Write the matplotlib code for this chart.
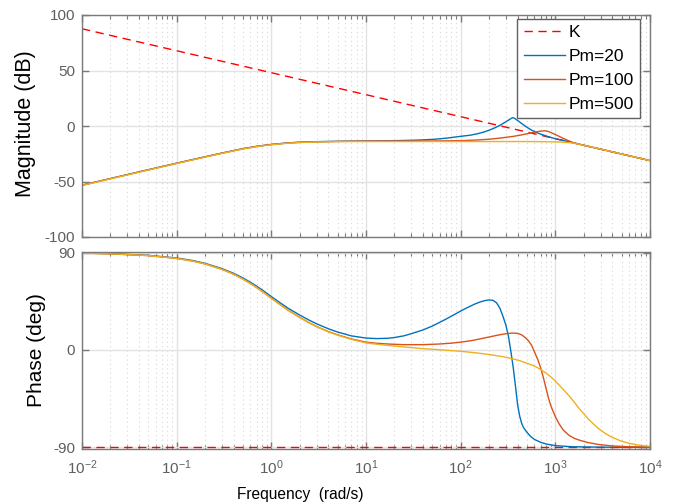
import numpy as np
import matplotlib
matplotlib.use("Agg")
import matplotlib.pyplot as plt
from matplotlib.ticker import LogLocator, NullFormatter, FixedLocator

plt.rcParams['font.family'] = ['Liberation Sans', 'DejaVu Sans']
plt.rcParams['mathtext.fontset'] = 'custom'
plt.rcParams['mathtext.rm'] = 'Liberation Sans'
plt.rcParams['mathtext.it'] = 'Liberation Sans:italic'
plt.rcParams['mathtext.bf'] = 'Liberation Sans:bold'

# ---------------- data ----------------
series_labels = ['K', 'Pm=20', 'Pm=100', 'Pm=500']

w_K = [0.01, 1e4]
mag_K = [87.6, -31.2]
ph_K = [-90.0, -90.0]

# magnitude (dB)
w_pm20_mag = [0.01, 0.02, 0.05, 0.1, 0.2, 0.3, 0.5, 0.7, 1, 1.5, 2, 3, 5, 10, 20, 30, 40,
              52, 70, 100, 126, 150, 175, 200, 230, 260, 290, 320, 340, 354, 370, 390,
              420, 460, 494, 560, 655, 800, 1000, 1300, 1540, 2000, 3000, 5000, 1e4]
mag_pm20 = [-53.3, -47.3, -39.4, -33.5, -27.7, -24.4, -20.4, -18.3, -16.6, -15.2, -14.6,
            -14.1, -13.8, -13.5, -13.2, -12.9, -12.5, -12.0, -11.0, -9.3, -8.3, -7.0, -5.5,
            -3.8, -1.6, 0.6, 3.0, 5.3, 6.7, 7.5, 7.0, 5.6, 3.6, 1.1, -0.8, -3.7, -6.4, -9.0,
            -11.5, -13.6, -15.1, -17.4, -20.8, -25.2, -31.2]

w_pm100_mag = [0.01, 0.02, 0.05, 0.1, 0.2, 0.3, 0.5, 0.7, 1, 1.5, 2, 3, 5, 10, 50, 100,
               150, 200, 260, 356, 424, 500, 600, 689, 775, 850, 920, 1025, 1200, 1540,
               2000, 3000, 5000, 1e4]
mag_pm100 = [-53.4, -47.4, -39.5, -33.6, -27.8, -24.5, -20.5, -18.4, -16.7, -15.3, -14.7,
             -14.2, -13.9, -13.6, -13.5, -13.2, -12.6, -11.9, -10.9, -9.4, -8.3, -7.0, -5.6,
             -4.7, -4.3, -5.0, -6.3, -8.1, -11.0, -15.0, -17.4, -20.8, -25.2, -31.2]

w_pm500_mag = [0.01, 0.02, 0.05, 0.1, 0.2, 0.3, 0.5, 0.7, 1, 1.5, 2, 3, 5, 10, 50, 200,
               500, 700, 1000, 1200, 1540, 2000, 3000, 5000, 1e4]
mag_pm500 = [-53.6, -47.6, -39.7, -33.8, -28.0, -24.7, -20.7, -18.6, -16.9, -15.5, -14.9,
             -14.4, -14.1, -14.0, -14.0, -14.0, -14.0, -14.1, -14.3, -14.6, -15.3, -17.4,
             -20.8, -25.2, -31.2]

# phase (deg)
w_pm20_ph = [0.01, 0.02, 0.05, 0.1, 0.15, 0.2, 0.3, 0.4, 0.5, 0.6, 0.7, 0.8, 1, 1.2, 1.5,
             2, 2.5, 3, 4, 5, 7, 10, 13, 17, 20, 25, 30, 40, 50, 60, 70, 85, 100, 120, 140,
             160, 180, 200, 220, 240, 260, 280, 300, 320, 340, 360, 380, 400, 420, 440,
             460, 500, 550, 600, 700, 810, 1000, 1500, 3000, 1e4]
ph_pm20 = [89.5, 89.0, 87.4, 85.0, 82.5, 80.0, 75.2, 70.8, 66.6, 62.6, 58.9, 55.5, 49.3,
           44.4, 38.6, 32.2, 27.6, 24.2, 19.6, 16.6, 13.0, 11.0, 10.5, 10.8, 11.5, 13.0,
           15.0, 18.5, 22.0, 25.5, 28.5, 32.5, 36.0, 39.5, 42.3, 44.3, 45.6, 46.2, 45.8,
           43.5, 38.4, 31.0, 23.0, 12.5, -2.0, -17.0, -34.0, -51.0, -61.0, -67.5, -71.5,
           -76.0, -80.0, -82.6, -85.3, -87.0, -88.4, -89.4, -89.8, -90.0]

w_pm100_ph = [0.01, 0.02, 0.05, 0.1, 0.15, 0.2, 0.3, 0.4, 0.5, 0.6, 0.7, 0.8, 1, 1.2, 1.5,
              2, 2.5, 3, 4, 5, 7, 10, 13, 17, 25, 40, 60, 80, 100, 130, 160, 200, 250, 300,
              350, 400, 440, 480, 520, 560, 600, 650, 700, 750, 800, 850, 900, 1000, 1100,
              1213, 1400, 1600, 1820, 2200, 2800, 4000, 6000, 1e4]
ph_pm100 = [89.4, 88.8, 87.2, 84.6, 82.0, 79.5, 74.5, 70.0, 65.6, 61.5, 57.7, 54.2, 47.8,
            42.8, 36.8, 30.0, 25.2, 21.7, 17.0, 14.0, 10.2, 7.2, 6.2, 5.5, 4.9, 4.9, 5.5,
            6.3, 7.2, 8.6, 10.2, 12.0, 13.8, 15.0, 15.6, 15.3, 14.0, 11.5, 8.5, 4.5, -1.5,
            -8.5, -16.5, -26.0, -36.0, -45.0, -52.0, -61.6, -68.5, -74.0, -79.0, -81.8,
            -83.5, -85.5, -87.2, -88.7, -89.4, -89.8]

w_pm500_ph = [0.01, 0.02, 0.05, 0.1, 0.15, 0.2, 0.3, 0.4, 0.5, 0.6, 0.7, 0.8, 1, 1.2, 1.5,
              2, 2.5, 3, 4, 5, 7, 10, 13, 17, 25, 40, 60, 100, 150, 200, 270, 350, 430,
              500, 600, 700, 800, 900, 1000, 1200, 1400, 1600, 1800, 2000, 2230, 2500,
              2800, 3350, 4000, 5000, 6150, 8000, 1e4]
ph_pm500 = [89.4, 88.8, 87.2, 84.6, 82.0, 79.5, 74.5, 70.0, 65.6, 61.5, 57.7, 54.2, 47.8,
            42.8, 36.8, 30.0, 25.2, 21.6, 16.8, 13.7, 9.8, 6.5, 5.3, 4.2, 2.8, 1.2, 0.2,
            -1.2, -2.8, -4.2, -6.0, -8.0, -10.2, -12.2, -14.8, -18.0, -21.5, -25.0, -28.8,
            -36.0, -42.5, -48.7, -54.5, -59.0, -63.8, -68.0, -72.0, -77.0, -80.8, -84.3,
            -86.5, -88.2, -89.0]

mag_ticks = [-100, -50, 0, 50, 100]
ph_ticks = [-90, 0, 90]
x_decades = [1e-2, 1e-1, 1e0, 1e1, 1e2, 1e3, 1e4]

# ---------------- styling ----------------
c_K = '#FF0000'
c_20 = '#0072BD'
c_100 = '#D95319'
c_500 = '#EDB120'
axis_col = '#7a7a7a'
label_col = '#5f5f5f'

W, H = 686, 504
fig = plt.figure(figsize=(W / 100, H / 100), dpi=100)

def box(l, t, r, b):
    return [l / W, 1 - b / H, (r - l) / W, (b - t) / H]

ax1 = fig.add_axes(box(82, 15, 650, 237))
ax2 = fig.add_axes(box(82, 252, 650, 449), sharex=ax1)

lw = 1.0
dash = (0, (6, 4))
ax1.plot(w_K, mag_K, color=c_K, lw=lw, linestyle=dash, label=series_labels[0])
ax1.plot(w_pm20_mag, mag_pm20, color=c_20, lw=lw, label=series_labels[1])
ax1.plot(w_pm100_mag, mag_pm100, color=c_100, lw=lw, label=series_labels[2])
ax1.plot(w_pm500_mag, mag_pm500, color=c_500, lw=lw, label=series_labels[3])

ax2.plot(w_K, ph_K, color=c_K, lw=lw, linestyle=dash)
ax2.plot(w_pm20_ph, ph_pm20, color=c_20, lw=lw)
ax2.plot(w_pm100_ph, ph_pm100, color=c_100, lw=lw)
ax2.plot(w_pm500_ph, ph_pm500, color=c_500, lw=lw)

for ax in (ax1, ax2):
    ax.set_xscale('log')
    ax.set_xlim(1e-2, 1e4)
    ax.xaxis.set_major_locator(FixedLocator(x_decades))
    ax.xaxis.set_minor_locator(LogLocator(base=10, subs=np.arange(2, 10), numticks=100))
    ax.xaxis.set_minor_formatter(NullFormatter())
    ax.grid(True, which='major', color='#e3e3e3', lw=1.0, ls='-')
    ax.grid(True, which='minor', axis='x', color='#d6d6d6', lw=0.8, ls=(0, (1, 3)))
    ax.set_axisbelow(True)
    for s in ax.spines.values():
        s.set_color(axis_col)
        s.set_linewidth(1.0)
    ax.tick_params(which='both', direction='in', top=True, right=True,
                   colors=axis_col, labelcolor=label_col, labelsize=11)
    ax.tick_params(which='major', length=5, width=1.0)
    ax.tick_params(which='minor', length=3, width=0.8)
    ax.tick_params(axis='y', pad=5)
    ax.tick_params(axis='x', pad=7)

ax1.set_ylim(-100, 100)
ax1.set_yticks(mag_ticks)
ax1.set_yticklabels([str(v) for v in mag_ticks])
ax1.tick_params(labelbottom=False)

ax2.set_ylim(-91.5, 90.5)
ax2.set_yticks(ph_ticks)
ax2.set_yticklabels([str(v) for v in ph_ticks])
ax2.set_xticklabels([r'$10^{%d}$' % int(round(np.log10(v))) for v in x_decades])

leg = ax1.legend(loc='upper right', bbox_to_anchor=(640 / W, 1 - 19 / H),
                 bbox_transform=fig.transFigure, fontsize=12.5, frameon=True,
                 fancybox=False, framealpha=1, edgecolor='#606060',
                 handlelength=2.4, handletextpad=0.2, labelspacing=0.5,
                 borderpad=0.35, borderaxespad=0)
leg.get_frame().set_linewidth(1.0)

fig.text(26 / W, 1 - 124 / H, 'Magnitude (dB)', rotation=90, ha='center', va='center',
         fontsize=15.5, color='black')
fig.text(37 / W, 1 - 350 / H, 'Phase (deg)', rotation=90, ha='center', va='center',
         fontsize=15, color='black')
fig.text(300 / W, 1 - 495 / H, 'Frequency  (rad/s)', ha='center', va='center',
         fontsize=11.2, color='black')

fig.savefig('out.png', dpi=100)
